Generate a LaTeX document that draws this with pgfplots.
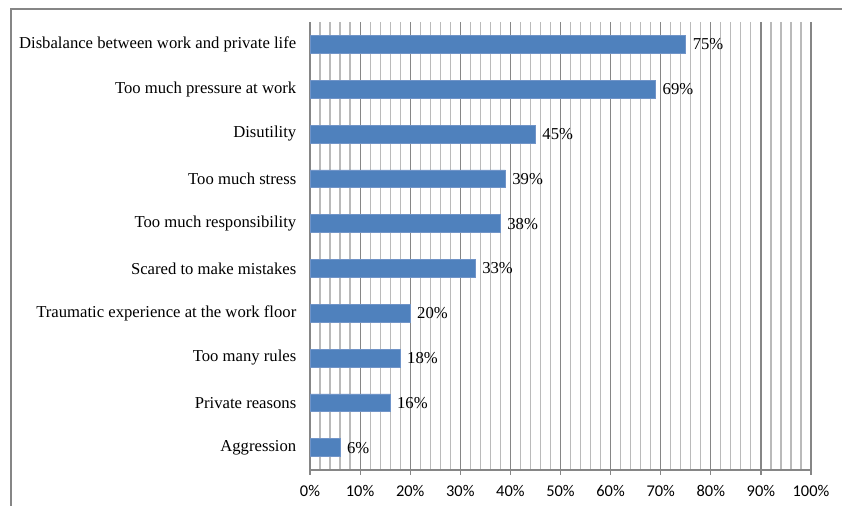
\documentclass[border=0pt]{standalone}
\usepackage{fontspec}
\setmainfont{Liberation Serif}
\newfontfamily\tickfont{Carlito}
\usepackage{pgfplots}
\pgfplotsset{compat=1.18}
\definecolor{barblue}{HTML}{4F81BD}
\definecolor{baredge}{HTML}{7094C8}
\definecolor{axgray}{HTML}{868686}
\definecolor{mingray}{HTML}{BABABA}
\begin{document}
\begin{tikzpicture}
\path[use as bounding box] (0pt,0pt) rectangle (631.5pt,379.5pt);
\draw[axgray, line width=1.1pt] (8.25pt,0pt) -- (8.25pt,372.75pt) -- (631.5pt,372.75pt);
\begin{axis}[
  at={(232.5pt,27pt)}, anchor=south west,
  scale only axis, width=375.75pt, height=336pt,
  xbar, bar width=0.4,
  xmin=0, xmax=100, ymin=-0.5, ymax=9.5,
  axis x line=bottom, axis y line=left,
  axis line style={axgray, line width=0.9pt, -},
  xtick={0,10,...,100},
  minor x tick num=4,
  xmajorgrids, xminorgrids,
  major grid style={axgray, line width=0.9pt},
  minor grid style={mingray, line width=0.9pt},
  tick align=outside,
  major tick length=3.75pt,
  minor tick length=3.75pt,
  minor x tick style={draw=none},
  x tick style={axgray, line width=0.9pt},
  ytick={0,...,9},
  y tick style={draw=none},
  minor ytick={-0.5,0.5,...,9.5},
  minor y tick style={axgray, line width=0.9pt},
  yticklabels={Aggression, Private reasons, Too many rules, Traumatic experience at the work floor, Scared to make mistakes, Too much responsibility, Too much stress, Disutility, Too much pressure at work, Disbalance between work and private life},
  yticklabel style={font=\fontsize{12.5}{14}\selectfont, xshift=-3pt},
  xticklabel={\tickfont\pgfmathprintnumber[assume math mode=true]{\tick}\%},
  xticklabel style={font=\fontsize{12.3}{14}\selectfont, yshift=-4pt},
  point meta=explicit symbolic,
  nodes near coords={\pgfplotspointmeta\%},
  nodes near coords style={font=\fontsize{12.5}{14}\selectfont, anchor=west, inner xsep=0pt, xshift=5pt},
  clip=false,
]
\addplot[fill=barblue, draw=baredge, line width=0.5pt] coordinates {
  (6,0) [6]
  (16,1) [16]
  (18,2) [18]
  (20,3) [20]
  (33,4) [33]
  (38,5) [38]
  (39,6) [39]
  (45,7) [45]
  (69,8) [69]
  (75,9) [75]
};
\end{axis}
\end{tikzpicture}
\end{document}
